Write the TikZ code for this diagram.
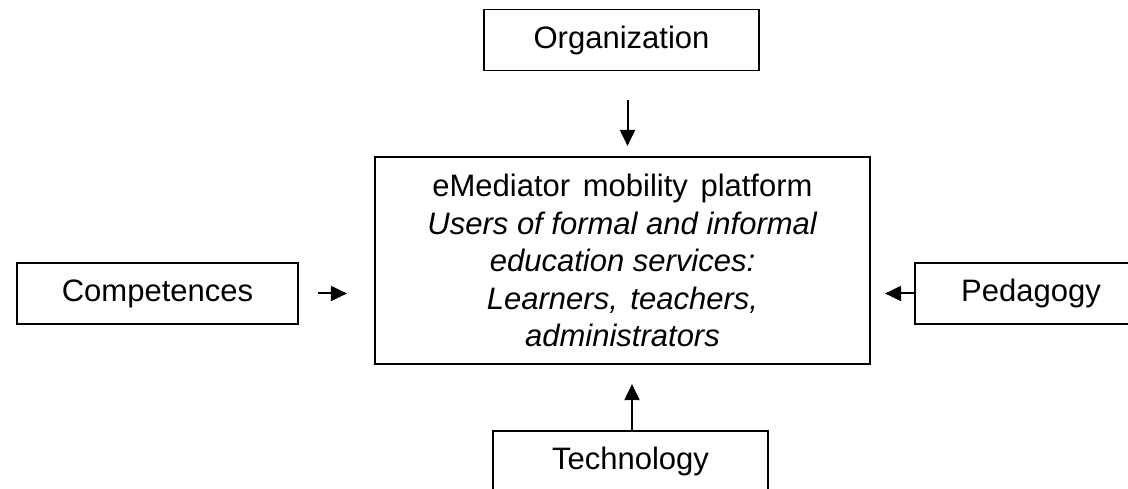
\documentclass[tikz,border=0pt]{standalone}
\usepackage{fontspec}
\setmainfont{Liberation Sans}
\usetikzlibrary{arrows.meta,calc}
\newcommand{\wsp}{\ \hspace{4pt}}
\begin{document}
\begin{tikzpicture}[x=1pt,y=1pt,
  sidebox/.style={draw, line width=1.2pt, minimum width=275pt, minimum height=61pt, inner sep=0pt,
    font=\fontsize{31}{37.5}\selectfont},
  mainbox/.style={draw, line width=2.2pt, minimum width=495pt, minimum height=207pt, inner sep=0pt, align=center,
    font=\fontsize{31}{37.5}\selectfont},
  arr/.style={line width=2pt, -{Triangle[length=16pt,width=15pt]}}]
\useasboundingbox (0,0) rectangle (1128,-489);
\clip (0,0) rectangle (1128,-489);
\node[mainbox] (main) at (622.5,-260.5) {eMediator\wsp mobility\wsp platform\\\textit{Users of formal and informal}\\\textit{education services:}\\\textit{Learners,\wsp teachers,}\\\textit{administrators}};
\node[sidebox] (org) at (621.5,-40) {Organization};
\node[sidebox, minimum width=281pt] (comp) at (157.5,-293.5) {Competences};
\node[sidebox, minimum width=232pt] (ped) at (1031,-293.5) {Pedagogy};
\node[sidebox] (tech) at (630.5,-461.5) {Technology};
\draw[arr] ($(org.south)+(6,-29)$) -- ($(org.south |- main.north)+(6,10)$);
\draw[arr] ($(tech.north)+(1.5,0)$) -- ($(tech.north |- main.south)+(1.5,-19)$);
\draw[arr] ($(comp.east)+(19,0)$) -- ($(main.west |- comp.east)+(-27,0)$);
\draw[arr] (ped.west) -- ($(main.east |- ped.west)+(14,0)$);
\end{tikzpicture}
\end{document}
